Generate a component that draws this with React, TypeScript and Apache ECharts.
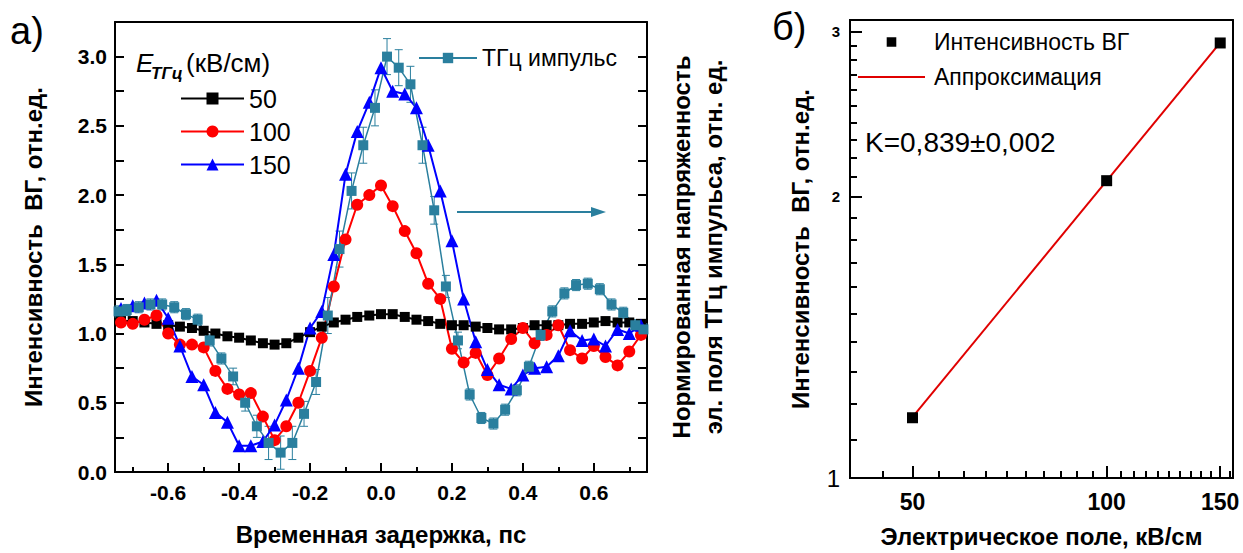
import React, { useEffect, useRef } from 'react';
import * as echarts from 'echarts';

// ---------- Panel a) data ----------
const delays = [
  -0.733, -0.7, -0.667, -0.633, -0.6, -0.567, -0.533, -0.5, -0.467, -0.433, -0.4, -0.367, -0.333, -0.3, -0.267,
  -0.233, -0.2, -0.167, -0.133, -0.1, -0.067, -0.033, 0, 0.033, 0.067, 0.1, 0.133, 0.167, 0.2, 0.233, 0.267,
  0.3, 0.333, 0.367, 0.4, 0.433, 0.467, 0.5, 0.533, 0.567, 0.6, 0.633, 0.667, 0.7, 0.733,
];
const shg50 = [
  1.09, 1.09, 1.08, 1.07, 1.06, 1.05, 1.04, 1.02, 1.0, 0.98, 0.97, 0.95, 0.93, 0.92, 0.93,
  0.97, 1.01, 1.05, 1.08, 1.1, 1.12, 1.13, 1.14, 1.14, 1.12, 1.1, 1.09, 1.07, 1.06, 1.06, 1.05,
  1.04, 1.03, 1.03, 1.04, 1.06, 1.06, 1.06, 1.07, 1.07, 1.08, 1.09, 1.08, 1.08, 1.07,
];
const shg100 = [
  1.08, 1.07, 1.1, 1.13, 1.0, 0.92, 0.92, 0.9, 0.73, 0.6, 0.56, 0.57, 0.4, 0.23, 0.33,
  0.5, 0.73, 0.97, 1.34, 1.68, 1.93, 2.0, 2.07, 1.92, 1.74, 1.58, 1.36, 1.25, 0.89, 0.79, 0.86,
  0.7, 0.82, 0.96, 1.04, 0.93, 0.99, 1.06, 0.88, 0.82, 0.91, 0.83, 0.77, 0.87, 0.99,
];
const shg150 = [
  1.18, 1.2, 1.22, 1.24, 1.11, 0.91, 0.69, 0.63, 0.43, 0.36, 0.19, 0.19, 0.22, 0.34, 0.52,
  0.75, 1.04, 1.16, 1.57, 2.15, 2.46, 2.67, 2.92, 2.75, 2.73, 2.63, 2.36, 2.03, 1.67, 1.25, 0.94,
  0.74, 0.63, 0.6, 0.7, 0.75, 0.76, 0.84, 1.02, 0.95, 0.96, 0.91, 1.03, 1.0, 1.06,
];
const thzDelays = [
  -0.74, -0.717, -0.683, -0.65, -0.617, -0.583, -0.55, -0.517, -0.483, -0.45, -0.417, -0.383, -0.35, -0.317,
  -0.283, -0.25, -0.217, -0.183, -0.15, -0.117, -0.083, -0.05, -0.017, 0.017, 0.05, 0.083, 0.117, 0.15, 0.183,
  0.217, 0.25, 0.283, 0.317, 0.35, 0.383, 0.417, 0.45, 0.483, 0.517, 0.55, 0.583, 0.617, 0.65, 0.683, 0.717, 0.74,
];
const thzField = [
  1.16, 1.17, 1.19, 1.21, 1.21, 1.19, 1.14, 1.1, 0.95, 0.82, 0.69, 0.5, 0.33, 0.21,
  0.14, 0.21, 0.42, 0.65, 1.13, 1.61, 2.03, 2.36, 2.63, 3.0, 2.92, 2.8, 2.36, 1.89, 1.34,
  0.95, 0.56, 0.39, 0.35, 0.45, 0.59, 0.76, 0.99, 1.16, 1.29, 1.35, 1.36, 1.32, 1.21, 1.15, 1.06, 1.03,
];
const thzError = [
  0.04, 0.04, 0.04, 0.04, 0.04, 0.04, 0.04, 0.04, 0.04, 0.04, 0.06, 0.06, 0.08, 0.12,
  0.12, 0.12, 0.09, 0.09, 0.13, 0.13, 0.13, 0.13, 0.13, 0.13, 0.13, 0.13, 0.13, 0.1, 0.08,
  0.06, 0.04, 0.04, 0.04, 0.04, 0.04, 0.04, 0.04, 0.04, 0.04, 0.04, 0.04, 0.04, 0.04, 0.04, 0.04, 0.04,
];
const delayLabels = [-0.6, -0.4, -0.2, 0, 0.2, 0.4, 0.6];
const delayMinorTicks = [-0.7, -0.5, -0.3, -0.1, 0.1, 0.3, 0.5, 0.7];
const intensityLabels = [0, 0.5, 1.0, 1.5, 2.0, 2.5, 3.0];
const intensityTicks = [0, 0.25, 0.5, 0.75, 1, 1.25, 1.5, 1.75, 2, 2.25, 2.5, 2.75, 3, 3.25];

// ---------- Panel б) data ----------
const fields = [50, 100, 150];
const shgIntensity = [1.16, 2.08, 2.92];
const fitFields = [50, 150];
const fitValues = [1.162, 2.922];
const fieldLabels = [50, 100, 150];
const fieldMinorTicks = [45, 55, 60, 65, 70, 75, 80, 85, 90, 95, 105, 110, 115, 120, 125, 130, 135, 140, 145, 155];
const logIntensityLabels = [1, 2, 3];
const logIntensityMinor = [1.1, 1.2, 1.3, 1.4, 1.5, 1.6, 1.7, 1.8, 1.9, 2.1, 2.2, 2.3, 2.4, 2.5, 2.6, 2.7, 2.8, 2.9];

const TEAL = '#2a7f9e';
const FONT = '"Liberation Sans", Arial, sans-serif';
const INK = 'black';

const zip = (xs: number[], ys: number[]) => xs.map((x, i) => [x, ys[i]]);

function Panel({ option, left, width }: { option: any; left: number; width: number }) {
  const ref = useRef<HTMLDivElement>(null);
  useEffect(() => {
    const chart = echarts.init(ref.current!, null, { renderer: 'svg' });
    chart.setOption(option);
    return () => chart.dispose();
  }, []);
  return <div ref={ref} style={{ position: 'absolute', left, top: 0, width, height: 553 }} />;
}

const axisLine = () => ({ show: true, onZero: false, lineStyle: { color: INK, width: 2 } });
const tick = (len: number, vals: number[]) => ({
  show: true, inside: true, length: len, customValues: vals, lineStyle: { color: INK, width: 2 },
});
const boldLabel = () => ({ color: '#000', fontWeight: 'bold' as const, fontSize: 21, fontFamily: FONT });
const nameStyle = () => ({ color: '#000', fontWeight: 'bold' as const, fontSize: 24, fontFamily: FONT });

function leftOption() {
  return {
    animation: false,
    textStyle: { fontFamily: FONT },
    grid: [{ left: 115, top: 22, width: 532, height: 450 }],
    xAxis: [
      {
        type: 'value', min: -0.75, max: 0.75, position: 'bottom',
        axisLine: axisLine(), axisTick: tick(9, delayLabels),
        axisLabel: { ...boldLabel(), customValues: delayLabels, margin: 10, formatter: (v: number) => v.toFixed(1) },
        splitLine: { show: false },
        name: 'Временная задержка, пс', nameLocation: 'middle', nameGap: 50, nameTextStyle: nameStyle(),
      },
      {
        type: 'value', min: -0.75, max: 0.75, position: 'bottom',
        axisLine: axisLine(), axisTick: tick(5, delayMinorTicks), axisLabel: { show: false }, splitLine: { show: false },
      },
      {
        type: 'value', min: -0.75, max: 0.75, position: 'top',
        axisLine: axisLine(), axisTick: { show: false }, axisLabel: { show: false }, splitLine: { show: false },
      },
    ],
    yAxis: [
      {
        type: 'value', min: 0, max: 3.25, position: 'left',
        axisLine: axisLine(), axisTick: tick(9, intensityTicks),
        axisLabel: { ...boldLabel(), customValues: intensityLabels, margin: 8, formatter: (v: number) => v.toFixed(1) },
        splitLine: { show: false },
        name: 'Интенсивность  ВГ, отн.ед.', nameLocation: 'middle', nameGap: 70, nameRotate: 90, nameTextStyle: nameStyle(),
      },
      {
        type: 'value', min: 0, max: 3.25, position: 'right',
        axisLine: axisLine(), axisTick: tick(9, intensityTicks), axisLabel: { show: false }, splitLine: { show: false },
        name: 'Нормированная напряженность\nэл. поля ТГц импульса, отн. ед.', nameLocation: 'middle', nameGap: 18, nameRotate: 90,
        nameTextStyle: { ...nameStyle(), lineHeight: 32 },
      },
    ],
    legend: [
      {
        data: ['50', '100', '150'], orient: 'vertical', left: 180, top: 86, padding: 0,
        itemWidth: 63, itemHeight: 15, itemGap: 8,
        textStyle: { fontSize: 25, color: '#000', fontFamily: FONT, lineHeight: 25 },
      },
      {
        data: ['ТГц импульс'], left: 418, top: 46, padding: 0, itemWidth: 58, itemHeight: 13,
        textStyle: { fontSize: 23, color: '#000', fontFamily: FONT, lineHeight: 24 },
      },
    ],
    series: [
      {
        name: '50', type: 'line', xAxisIndex: 0, yAxisIndex: 0, data: zip(delays, shg50),
        symbol: 'rect', symbolSize: 10, color: '#000', lineStyle: { width: 2, color: '#000' }, itemStyle: { color: '#000' },
      },
      {
        name: '100', type: 'line', xAxisIndex: 0, yAxisIndex: 0, data: zip(delays, shg100),
        symbol: 'circle', symbolSize: 12, color: '#ff0000', lineStyle: { width: 2, color: '#ff0000' }, itemStyle: { color: '#ff0000' },
      },
      {
        name: '150', type: 'line', xAxisIndex: 0, yAxisIndex: 0, data: zip(delays, shg150),
        symbol: 'triangle', symbolSize: 13, color: '#0000ff', lineStyle: { width: 2, color: '#0000ff' }, itemStyle: { color: '#0000ff' },
      },
      {
        name: 'ТГц импульс', type: 'line', xAxisIndex: 0, yAxisIndex: 1, data: zip(thzDelays, thzField),
        symbol: 'rect', symbolSize: 10, color: TEAL, lineStyle: { width: 1.5, color: TEAL }, itemStyle: { color: TEAL },
      },
      {
        name: 'err', type: 'custom', xAxisIndex: 0, yAxisIndex: 1,
        data: thzDelays.map((x, i) => [x, thzField[i] - thzError[i], thzField[i] + thzError[i]]),
        encode: { x: 0, y: [1, 2] },
        renderItem: (params: any, api: any) => {
          const x = api.value(0);
          const p1 = api.coord([x, api.value(2)]);
          const p2 = api.coord([x, api.value(1)]);
          const w = 4;
          const st = { stroke: TEAL, lineWidth: 1 };
          return {
            type: 'group',
            children: [
              { type: 'line', shape: { x1: p1[0], y1: p1[1], x2: p2[0], y2: p2[1] }, style: st },
              { type: 'line', shape: { x1: p1[0] - w, y1: p1[1], x2: p1[0] + w, y2: p1[1] }, style: st },
              { type: 'line', shape: { x1: p2[0] - w, y1: p2[1], x2: p2[0] + w, y2: p2[1] }, style: st },
            ],
          };
        },
      },
    ],
    graphic: [
      { type: 'text', left: 10, top: 12, style: { text: 'а)', fontSize: 38, fontFamily: FONT, fill: '#000' } },
      { type: 'text', x: 136, y: 63, style: { text: 'E', fontSize: 26, fontStyle: 'italic', fontFamily: FONT, fill: '#000', verticalAlign: 'middle' } },
      { type: 'text', x: 151, y: 73, style: { text: 'ТГц', fontSize: 17, fontStyle: 'italic', fontWeight: 'bold', fontFamily: FONT, fill: '#000', verticalAlign: 'middle' } },
      { type: 'text', x: 186, y: 63, style: { text: '(кВ/см)', fontSize: 26, fontFamily: FONT, fill: '#000', verticalAlign: 'middle' } },
      { type: 'line', shape: { x1: 457, y1: 212, x2: 595, y2: 212 }, style: { stroke: TEAL, lineWidth: 2 } },
      { type: 'polygon', shape: { points: [[591, 207], [606, 212], [591, 217]] }, style: { fill: TEAL } },
    ],
  };
}

// right panel is drawn in its own chart positioned at x = 760
const R0 = 760;
function rightOption() {
  return {
    animation: false,
    textStyle: { fontFamily: FONT },
    grid: [{ left: 850 - R0, top: 20, width: 383, height: 458 }],
    xAxis: [
      {
        type: 'log', logBase: 10, min: 40, max: 157, position: 'bottom',
        axisLine: axisLine(), axisTick: tick(12, fieldLabels),
        axisLabel: { ...boldLabel(), fontSize: 23, customValues: fieldLabels, margin: 12, formatter: (v: number) => String(Math.round(v)) },
        splitLine: { show: false }, minorTick: { show: false }, minorSplitLine: { show: false },
        name: 'Электрическое поле, кВ/см', nameLocation: 'middle', nameGap: 46, nameTextStyle: nameStyle(),
      },
      {
        type: 'log', logBase: 10, min: 40, max: 157, position: 'bottom',
        axisLine: axisLine(), axisTick: tick(7, fieldMinorTicks), axisLabel: { show: false }, splitLine: { show: false },
      },
      {
        type: 'log', logBase: 10, min: 40, max: 157, position: 'top',
        axisLine: axisLine(), axisTick: { show: false }, axisLabel: { show: false }, splitLine: { show: false },
      },
    ],
    yAxis: [
      {
        type: 'log', logBase: 10, min: 1, max: 3.09, position: 'left',
        axisLine: axisLine(), axisTick: tick(12, logIntensityLabels),
        axisLabel: {
          customValues: logIntensityLabels, margin: 10, color: '#000', fontFamily: FONT,
          formatter: (v: number) => (Math.round(v) === 1 ? '{b|1}' : `{s|${Math.round(v)}}`),
          rich: {
            b: { fontSize: 24, color: '#000', fontFamily: FONT },
            s: { fontSize: 15, fontWeight: 'bold', color: '#000', fontFamily: FONT },
          },
        },
        splitLine: { show: false }, minorTick: { show: false },
        name: 'Интенсивность  ВГ, отн.ед.', nameLocation: 'middle', nameGap: 38, nameRotate: 90, nameTextStyle: nameStyle(),
      },
      {
        type: 'log', logBase: 10, min: 1, max: 3.09, position: 'left',
        axisLine: axisLine(), axisTick: tick(7, logIntensityMinor), axisLabel: { show: false }, splitLine: { show: false },
      },
      {
        type: 'log', logBase: 10, min: 1, max: 3.09, position: 'right',
        axisLine: axisLine(), axisTick: { show: false }, axisLabel: { show: false }, splitLine: { show: false },
      },
    ],
    legend: [
      {
        data: ['Интенсивность ВГ', { name: 'Аппроксимация', icon: 'path://M0,0H67V2H0Z' }], orient: 'vertical',
        left: 858 - R0, top: 30, padding: 0, itemWidth: 67, itemHeight: 12, itemGap: 11,
        textStyle: { fontSize: 23, color: '#000', fontFamily: FONT, lineHeight: 24, padding: [0, 0, 0, 4] },
      },
    ],
    series: [
      {
        name: 'Интенсивность ВГ', type: 'line', data: zip(fields, shgIntensity),
        symbol: 'rect', symbolSize: 11, color: '#000', lineStyle: { width: 0, opacity: 0 }, itemStyle: { color: '#000' }, z: 5,
      },
      {
        name: 'Аппроксимация', type: 'line', data: zip(fitFields, fitValues),
        symbol: 'none', color: '#e00000', lineStyle: { width: 2, color: '#e00000' }, itemStyle: { color: '#e00000' },
      },
    ],
    graphic: [
      { type: 'text', left: 772 - R0, top: 8, style: { text: 'б)', fontSize: 38, fontFamily: FONT, fill: '#000' } },
      { type: 'text', x: 865 - R0, y: 142, style: { text: 'K=0,839±0,002', fontSize: 28, fontFamily: FONT, fill: '#000', verticalAlign: 'middle' } },
    ],
  };
}

export default function App() {
  useEffect(() => {
    document.body.style.margin = '0';
  }, []);
  return (
    <div style={{ position: 'relative', width: 1243, height: 553, overflow: 'hidden' }}>
      <Panel option={leftOption()} left={0} width={R0} />
      <Panel option={rightOption()} left={R0} width={1243 - R0} />
    </div>
  );
}
